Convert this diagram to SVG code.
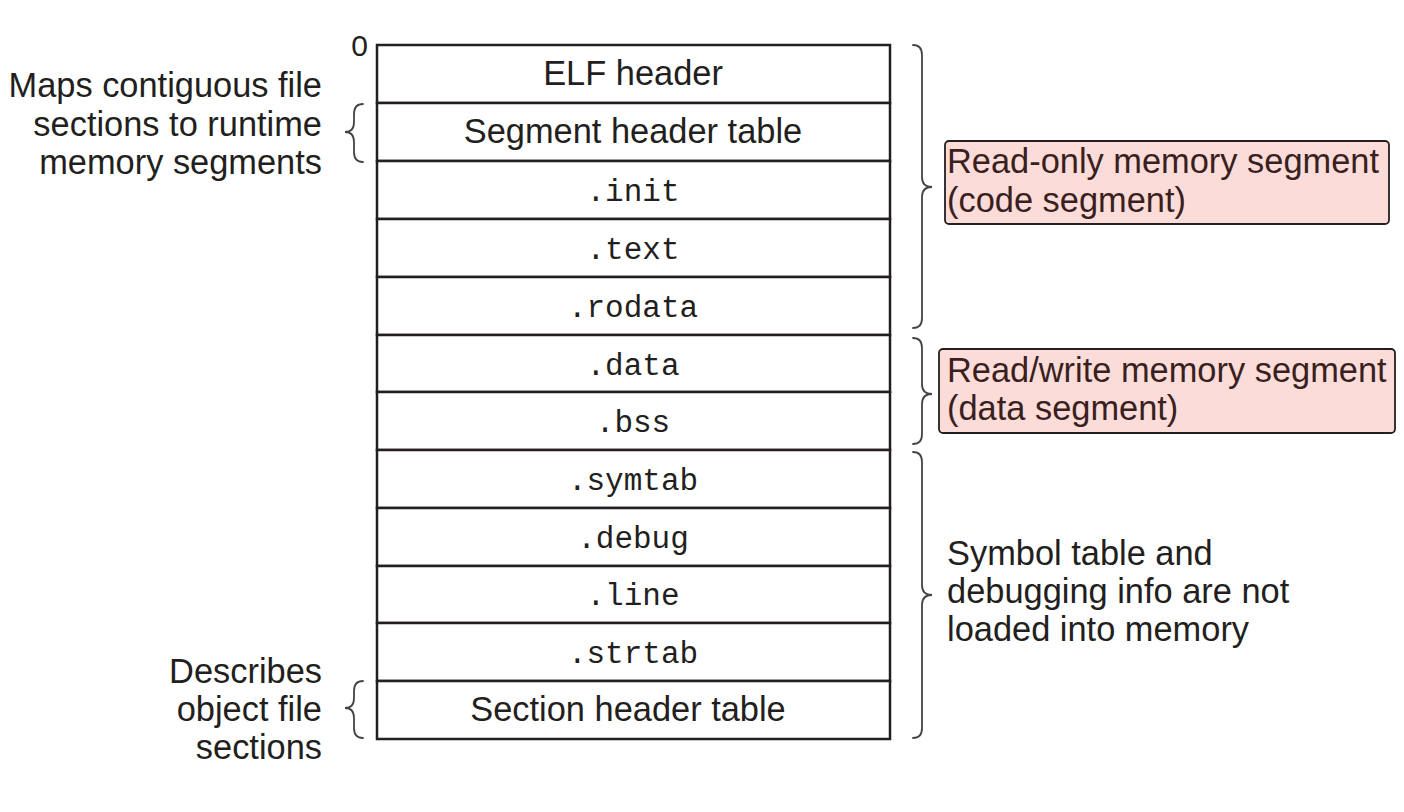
<svg xmlns="http://www.w3.org/2000/svg" width="1404" height="812" viewBox="0 0 1404 812">
<style>
.sans{font-family:"Liberation Sans",Arial,sans-serif;font-size:34.4px;fill:#231f20}
.mono{font-family:"Liberation Mono","Courier New",monospace;font-size:31px;fill:#231f20}
.row{fill:#fff;stroke:#231f20;stroke-width:2.5}
.brace{fill:none;stroke:#444;stroke-width:1.8;stroke-linecap:round}
.pink{fill:#fbdcd8;stroke:#231f20;stroke-width:1.8}
.pt{font-family:"Liberation Sans",Arial,sans-serif;font-size:34.4px;fill:#3a1f1f}
</style>
<rect width="1404" height="812" fill="#fff"/>
<text x="368" y="56" class="sans" text-anchor="end" style="font-size:30px">0</text>
<g id="elf-header"><rect class="row" x="377" y="45" width="513" height="58"/><text x="633" y="85" class="sans" text-anchor="middle">ELF header</text></g>
<g id="segment-header-table"><rect class="row" x="377" y="103" width="513" height="58"/><text x="633" y="143" class="sans" text-anchor="middle">Segment header table</text></g>
<g id="init"><rect class="row" x="377" y="161" width="513" height="58"/><text x="633" y="201" class="mono" text-anchor="middle">.init</text></g>
<g id="text"><rect class="row" x="377" y="219" width="513" height="58"/><text x="633" y="259" class="mono" text-anchor="middle">.text</text></g>
<g id="rodata"><rect class="row" x="377" y="277" width="513" height="58"/><text x="633" y="317" class="mono" text-anchor="middle">.rodata</text></g>
<g id="data"><rect class="row" x="377" y="335" width="513" height="57"/><text x="633" y="375" class="mono" text-anchor="middle">.data</text></g>
<g id="bss"><rect class="row" x="377" y="392" width="513" height="58"/><text x="633" y="432" class="mono" text-anchor="middle">.bss</text></g>
<g id="symtab"><rect class="row" x="377" y="450" width="513" height="58"/><text x="633" y="490" class="mono" text-anchor="middle">.symtab</text></g>
<g id="debug"><rect class="row" x="377" y="508" width="513" height="58"/><text x="633" y="548" class="mono" text-anchor="middle">.debug</text></g>
<g id="line"><rect class="row" x="377" y="566" width="513" height="57"/><text x="633" y="605" class="mono" text-anchor="middle">.line</text></g>
<g id="strtab"><rect class="row" x="377" y="623" width="513" height="58"/><text x="633" y="663" class="mono" text-anchor="middle">.strtab</text></g>
<g id="section-header-table"><rect class="row" x="377" y="681" width="513" height="58"/><text x="628" y="721" class="sans" text-anchor="middle">Section header table</text></g>

<g id="connectors">
<path class="brace" d="M913,45 Q922,45 922,55 L922,177 Q922,187 932,187 Q922,187 922,197 L922,318 Q922,328 913,328"/>
<path class="brace" d="M913,338 Q922,338 922,348 L922,384 Q922,394 932,394 Q922,394 922,404 L922,434 Q922,444 913,444"/>
<path class="brace" d="M913,452 Q922,452 922,462 L922,585 Q922,595 932,595 Q922,595 922,605 L922,728 Q922,738 913,738"/>
<path class="brace" d="M363,104 Q354,104 354,114 L354,122 Q354,132 345,132 Q354,132 354,142 L354,152 Q354,162 363,162"/>
<path class="brace" d="M363,681 Q354,681 354,691 L354,698 Q354,708 345,708 Q354,708 354,718 L354,728 Q354,738 363,738"/>
</g>

<g id="maps-label">
<text class="sans" text-anchor="end" x="322" y="97">Maps contiguous file</text>
<text class="sans" text-anchor="end" x="322" y="136">sections to runtime</text>
<text class="sans" text-anchor="end" x="322" y="174">memory segments</text>
</g>
<g id="describes-label">
<text class="sans" text-anchor="end" x="322" y="683">Describes</text>
<text class="sans" text-anchor="end" x="322" y="721">object file</text>
<text class="sans" text-anchor="end" x="322" y="759">sections</text>
</g>
<g id="read-only-segment">
<rect class="pink" x="945" y="141" width="444" height="83" rx="4"/>
<text class="pt" x="947" y="173">Read-only memory segment</text>
<text class="pt" x="947" y="212">(code segment)</text>
</g>
<g id="read-write-segment">
<rect class="pink" x="939" y="349" width="456" height="84" rx="4"/>
<text class="pt" x="947" y="382">Read/write memory segment</text>
<text class="pt" x="947" y="420">(data segment)</text>
</g>
<g id="symbol-label">
<text class="sans" x="947" y="565">Symbol table and</text>
<text class="sans" x="947" y="603">debugging info are not</text>
<text class="sans" x="947" y="641">loaded into memory</text>
</g>
</svg>
